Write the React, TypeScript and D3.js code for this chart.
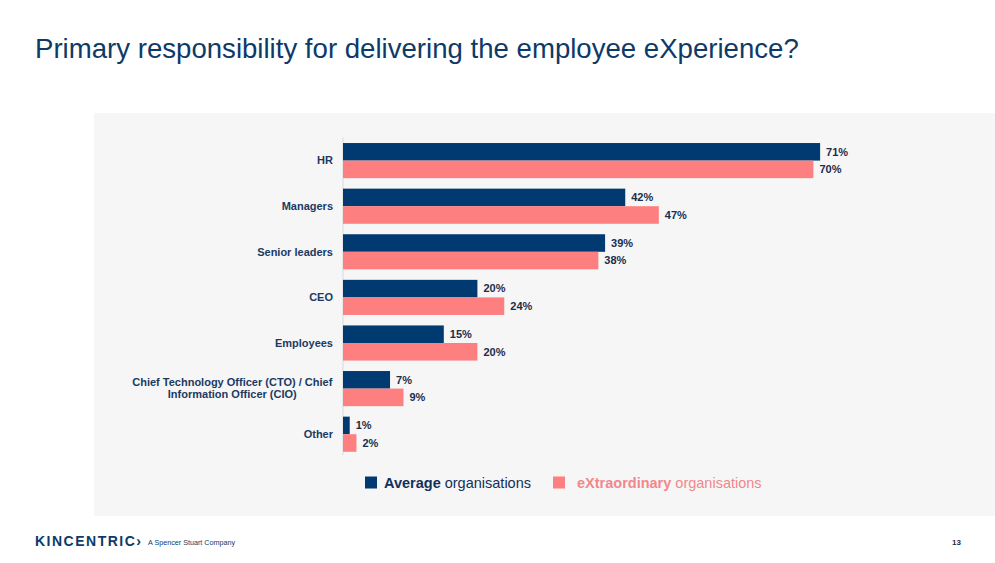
import * as d3 from "d3";
import React from "react";

const categories = [
  ["HR"],
  ["Managers"],
  ["Senior leaders"],
  ["CEO"],
  ["Employees"],
  ["Chief Technology Officer (CTO) / Chief", "Information Officer (CIO)"],
  ["Other"],
];
const averageValues = [71, 42, 39, 20, 15, 7, 1];
const extraordinaryValues = [70, 47, 38, 24, 20, 9, 2];
const seriesNames = ["average", "extraordinary"];

const NAVY = "#003a70";
const PINK = "#fd7f80";
const LABEL = "#1b3a63";
const FONT = "'Liberation Sans', Arial, sans-serif";

const App: React.FC = () => {
  const width = 995;
  const height = 563;
  const keys = categories.map((c) => c.join(" "));

  const x = d3.scaleLinear().domain([0, 100]).range([343, 1015]);
  const y = d3
    .scaleBand<string>()
    .domain(keys)
    .range([137.8, 457])
    .paddingInner(0.23)
    .paddingOuter(0.115);
  const sub = d3.scaleBand<string>().domain(seriesNames).range([0, y.bandwidth()]);

  const rows = keys.map((k, i) => ({
    key: k,
    lines: categories[i],
    vals: [averageValues[i], extraordinaryValues[i]],
  }));

  // multi-line labels are centred on the longest line, which ends at the right edge
  const measure = (s: string) => s.length * 5.3;

  return (
    <div style={{ position: "absolute", left: 0, top: 0 }}>
      <svg width={width} height={height} style={{ display: "block", fontFamily: FONT }}>
        <rect width={width} height={height} fill="#ffffff" />
        <text x={35} y={58} fontSize={27.6} fill="#0d3a68">
          Primary responsibility for delivering the employee eXperience?
        </text>

        <rect x={94} y={113} width={width - 94} height={403} fill="#f6f6f6" />

        <line x1={x(0)} x2={x(0)} y1={137.5} y2={455} stroke="#d9d9d9" strokeWidth={1} />

        {rows.map((r) => {
          const y0 = y(r.key) ?? 0;
          const cy = y0 + y.bandwidth() / 2;
          const multi = r.lines.length > 1;
          const longest = d3.max(r.lines, measure) ?? 0;
          const lx = multi ? 333 - longest / 2 : 333;
          return (
            <g key={r.key}>
              {r.vals.map((v, j) => {
                const by = y0 + (sub(seriesNames[j]) ?? 0);
                return (
                  <g key={j}>
                    <rect
                      x={x(0)}
                      y={by}
                      width={x(v) - x(0)}
                      height={sub.bandwidth()}
                      fill={j === 0 ? NAVY : PINK}
                    />
                    <text
                      x={x(v) + 6}
                      y={by + sub.bandwidth() / 2}
                      dy="0.35em"
                      fontSize={11}
                      fontWeight="bold"
                      fill="#1a2d4c"
                    >
                      {v}%
                    </text>
                  </g>
                );
              })}
              <text
                x={lx}
                y={cy - ((r.lines.length - 1) * 12) / 2}
                textAnchor={multi ? "middle" : "end"}
                fontSize={11}
                fontWeight="bold"
                fill={LABEL}
              >
                {r.lines.map((l, k) => (
                  <tspan key={k} x={lx} dy={k === 0 ? "0.35em" : 12}>
                    {l}
                  </tspan>
                ))}
              </text>
            </g>
          );
        })}

        <rect x={365} y={476.5} width={12} height={12} fill={NAVY} />
        <text x={384} y={487.5} fontSize={14.5} fill="#12305a">
          <tspan fontWeight="bold">Average</tspan> organisations
        </text>
        <rect x={553} y={476.5} width={12} height={12} fill={PINK} />
        <text x={577} y={487.5} fontSize={14.5} fill="#f2878b">
          <tspan fontWeight="bold">eXtraordinary</tspan> organisations
        </text>

        <text x={35} y={546} fontSize={14} fontWeight="bold" letterSpacing={1.5} fill="#0d3a68">
          KINCENTRIC›
        </text>
        <text x={148} y={545} fontSize={7.2} fill="#0d3a68">
          A Spencer Stuart Company
        </text>
        <text x={952} y={545} fontSize={8} fontWeight="bold" fill="#1a2d4c">
          13
        </text>
      </svg>
    </div>
  );
};

export default App;
